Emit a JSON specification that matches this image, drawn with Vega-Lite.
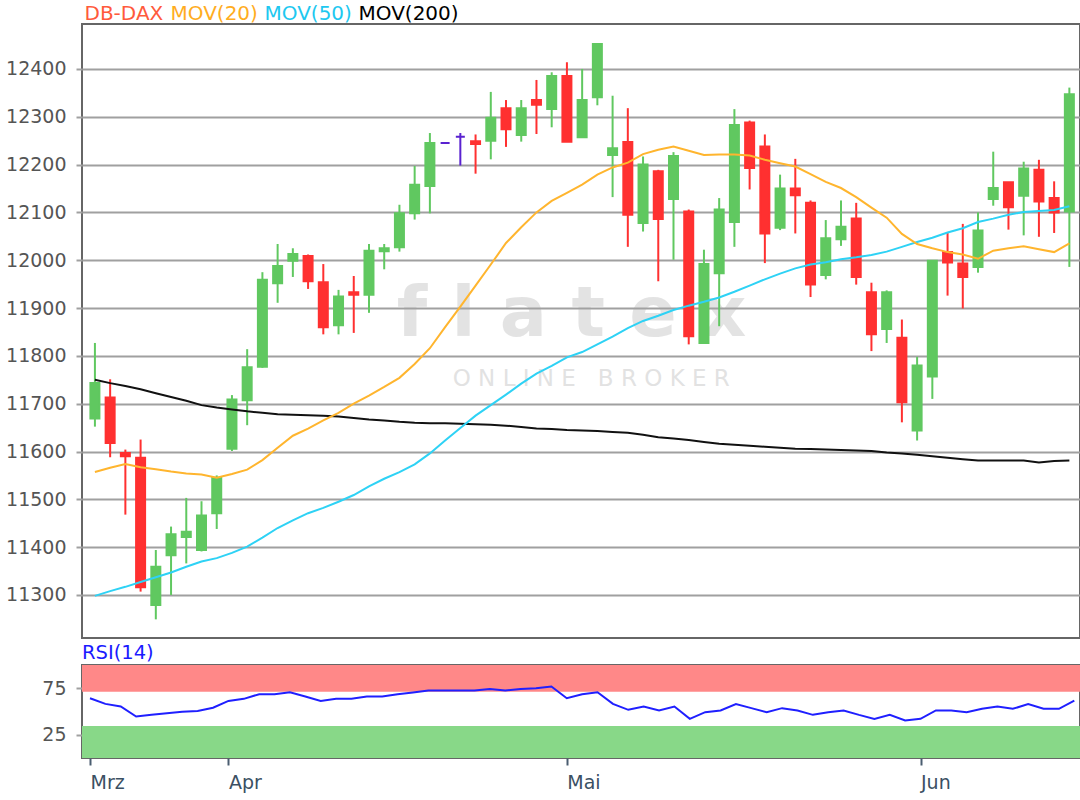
{
  "$schema": "https://vega.github.io/schema/vega-lite/v6.json",
  "background": "#ffffff",
  "padding": {"left": 4, "top": 4, "right": 2, "bottom": 4},
  "bounds": "flush",
  "spacing": 27,
  "config": {
    "font": "DejaVu Sans",
    "view": {"stroke": "#666666", "strokeWidth": 2},
    "axis": {"labelFont": "DejaVu Sans", "labelFontSize": 19, "labelColor": "#555555", "title": null, "domain": false}
  },
  "datasets": {
    "ohlc": [
      {"i":0,"o":11669,"h":11827,"l":11652,"c":11743,"m20":11557,"m50":11298,"m200":11750,"rsi":64.3},
      {"i":1,"o":11713,"h":11751,"l":11588,"c":11618,"m20":11566,"m50":11308,"m200":11743,"rsi":58.2},
      {"i":2,"o":11597,"h":11604,"l":11468,"c":11590,"m20":11574,"m50":11317,"m200":11737,"rsi":55.4},
      {"i":3,"o":11587,"h":11625,"l":11307,"c":11316,"m20":11567,"m50":11327,"m200":11730,"rsi":44.6},
      {"i":4,"o":11279,"h":11394,"l":11249,"c":11359,"m20":11563,"m50":11337,"m200":11722,"rsi":46.4},
      {"i":5,"o":11383,"h":11443,"l":11300,"c":11427,"m20":11558,"m50":11347,"m200":11714,"rsi":48.2},
      {"i":6,"o":11421,"h":11503,"l":11366,"c":11432,"m20":11554,"m50":11359,"m200":11706,"rsi":49.6},
      {"i":7,"o":11394,"h":11496,"l":11391,"c":11466,"m20":11552,"m50":11370,"m200":11697,"rsi":50.5},
      {"i":8,"o":11471,"h":11550,"l":11438,"c":11545,"m20":11545,"m50":11377,"m200":11692,"rsi":54.0},
      {"i":9,"o":11606,"h":11718,"l":11601,"c":11709,"m20":11553,"m50":11388,"m200":11688,"rsi":61.4},
      {"i":10,"o":11707,"h":11814,"l":11655,"c":11776,"m20":11562,"m50":11401,"m200":11684,"rsi":63.6},
      {"i":11,"o":11777,"h":11975,"l":11775,"c":11959,"m20":11582,"m50":11420,"m200":11681,"rsi":68.6},
      {"i":12,"o":11952,"h":12034,"l":11911,"c":11988,"m20":11608,"m50":11440,"m200":11678,"rsi":68.6},
      {"i":13,"o":11999,"h":12025,"l":11965,"c":12013,"m20":11633,"m50":11456,"m200":11677,"rsi":70.7},
      {"i":14,"o":12009,"h":12012,"l":11940,"c":11956,"m20":11648,"m50":11471,"m200":11676,"rsi":66.1},
      {"i":15,"o":11954,"h":11992,"l":11845,"c":11860,"m20":11665,"m50":11482,"m200":11675,"rsi":61.4},
      {"i":16,"o":11864,"h":11938,"l":11845,"c":11924,"m20":11681,"m50":11495,"m200":11673,"rsi":63.6},
      {"i":17,"o":11933,"h":11967,"l":11848,"c":11928,"m20":11700,"m50":11509,"m200":11670,"rsi":63.6},
      {"i":18,"o":11928,"h":12034,"l":11890,"c":12020,"m20":11717,"m50":11527,"m200":11667,"rsi":66.1},
      {"i":19,"o":12019,"h":12034,"l":11981,"c":12025,"m20":11735,"m50":11543,"m200":11665,"rsi":66.1},
      {"i":20,"o":12027,"h":12116,"l":12018,"c":12098,"m20":11754,"m50":11557,"m200":11662,"rsi":68.5},
      {"i":21,"o":12098,"h":12197,"l":12085,"c":12158,"m20":11783,"m50":11573,"m200":11660,"rsi":70.5},
      {"i":22,"o":12155,"h":12266,"l":12098,"c":12245,"m20":11816,"m50":11596,"m200":11659,"rsi":72.5},
      {"i":23,"o":12245,"h":12245,"l":12245,"c":12245,"m20":11860,"m50":11623,"m200":11659,"rsi":72.5},
      {"i":24,"o":12258,"h":12266,"l":12198,"c":12258,"m20":11903,"m50":11649,"m200":11658,"rsi":72.5},
      {"i":25,"o":12249,"h":12263,"l":12181,"c":12243,"m20":11947,"m50":11675,"m200":11657,"rsi":72.5},
      {"i":26,"o":12250,"h":12352,"l":12211,"c":12298,"m20":11991,"m50":11697,"m200":11656,"rsi":74.3},
      {"i":27,"o":12318,"h":12335,"l":12237,"c":12274,"m20":12036,"m50":11719,"m200":11654,"rsi":72.5},
      {"i":28,"o":12262,"h":12335,"l":12248,"c":12318,"m20":12069,"m50":11742,"m200":11651,"rsi":74.3},
      {"i":29,"o":12335,"h":12377,"l":12264,"c":12325,"m20":12100,"m50":11763,"m200":11648,"rsi":75.0},
      {"i":30,"o":12316,"h":12393,"l":12278,"c":12385,"m20":12124,"m50":11779,"m200":11647,"rsi":76.8},
      {"i":31,"o":12385,"h":12414,"l":12248,"c":12248,"m20":12141,"m50":11797,"m200":11645,"rsi":64.3},
      {"i":32,"o":12257,"h":12400,"l":12257,"c":12335,"m20":12158,"m50":11808,"m200":11644,"rsi":68.6},
      {"i":33,"o":12341,"h":12452,"l":12324,"c":12452,"m20":12179,"m50":11824,"m200":11643,"rsi":70.7},
      {"i":34,"o":12220,"h":12344,"l":12132,"c":12234,"m20":12194,"m50":11840,"m200":11641,"rsi":58.2},
      {"i":35,"o":12247,"h":12318,"l":12028,"c":12095,"m20":12204,"m50":11858,"m200":11639,"rsi":51.8},
      {"i":36,"o":12078,"h":12217,"l":12060,"c":12200,"m20":12222,"m50":11873,"m200":11635,"rsi":55.4},
      {"i":37,"o":12186,"h":12189,"l":11956,"c":12086,"m20":12231,"m50":11884,"m200":11630,"rsi":51.1},
      {"i":38,"o":12128,"h":12226,"l":12001,"c":12218,"m20":12238,"m50":11896,"m200":11627,"rsi":55.4},
      {"i":39,"o":12102,"h":12106,"l":11824,"c":11841,"m20":12229,"m50":11905,"m200":11624,"rsi":42.1},
      {"i":40,"o":11827,"h":12022,"l":11827,"c":11992,"m20":12220,"m50":11913,"m200":11620,"rsi":49.3},
      {"i":41,"o":11973,"h":12130,"l":11862,"c":12106,"m20":12221,"m50":11922,"m200":11616,"rsi":51.1},
      {"i":42,"o":12080,"h":12316,"l":12028,"c":12283,"m20":12221,"m50":11934,"m200":11614,"rsi":57.9},
      {"i":43,"o":12288,"h":12292,"l":12148,"c":12193,"m20":12219,"m50":11947,"m200":11612,"rsi":53.6},
      {"i":44,"o":12238,"h":12263,"l":11994,"c":12056,"m20":12210,"m50":11960,"m200":11610,"rsi":49.3},
      {"i":45,"o":12068,"h":12179,"l":12063,"c":12150,"m20":12203,"m50":11972,"m200":11608,"rsi":53.6},
      {"i":46,"o":12150,"h":12212,"l":12056,"c":12136,"m20":12196,"m50":11983,"m200":11606,"rsi":51.1},
      {"i":47,"o":12120,"h":12125,"l":11923,"c":11949,"m20":12180,"m50":11991,"m200":11605,"rsi":46.4},
      {"i":48,"o":11969,"h":12084,"l":11960,"c":12046,"m20":12164,"m50":11996,"m200":11604,"rsi":49.3},
      {"i":49,"o":12044,"h":12125,"l":12030,"c":12070,"m20":12151,"m50":12002,"m200":11603,"rsi":51.1},
      {"i":50,"o":12087,"h":12120,"l":11949,"c":11965,"m20":12132,"m50":12006,"m200":11602,"rsi":46.4},
      {"i":51,"o":11933,"h":11953,"l":11810,"c":11845,"m20":12110,"m50":12011,"m200":11601,"rsi":42.1},
      {"i":52,"o":11856,"h":11937,"l":11827,"c":11933,"m20":12089,"m50":12018,"m200":11598,"rsi":46.4},
      {"i":53,"o":11838,"h":11876,"l":11661,"c":11703,"m20":12055,"m50":12028,"m200":11596,"rsi":40.4},
      {"i":54,"o":11644,"h":11798,"l":11623,"c":11780,"m20":12034,"m50":12038,"m200":11593,"rsi":42.1},
      {"i":55,"o":11757,"h":11999,"l":11710,"c":11999,"m20":12025,"m50":12047,"m200":11590,"rsi":51.1},
      {"i":56,"o":12017,"h":12057,"l":11926,"c":11995,"m20":12017,"m50":12058,"m200":11587,"rsi":51.1},
      {"i":57,"o":11993,"h":12076,"l":11899,"c":11965,"m20":12012,"m50":12067,"m200":11584,"rsi":49.3},
      {"i":58,"o":11986,"h":12100,"l":11974,"c":12062,"m20":12003,"m50":12080,"m200":11581,"rsi":52.9},
      {"i":59,"o":12128,"h":12227,"l":12114,"c":12151,"m20":12020,"m50":12087,"m200":11581,"rsi":55.4},
      {"i":60,"o":12163,"h":12163,"l":12064,"c":12111,"m20":12025,"m50":12095,"m200":11581,"rsi":52.9},
      {"i":61,"o":12135,"h":12206,"l":12052,"c":12192,"m20":12029,"m50":12101,"m200":11581,"rsi":57.9},
      {"i":62,"o":12189,"h":12210,"l":12049,"c":12123,"m20":12023,"m50":12103,"m200":11577,"rsi":52.9},
      {"i":63,"o":12130,"h":12165,"l":12057,"c":12100,"m20":12017,"m50":12105,"m200":11580,"rsi":52.9},
      {"i":64,"o":12102,"h":12361,"l":11986,"c":12347,"m20":12035,"m50":12113,"m200":11581,"rsi":61.8}
    ],
    "bands": [
      {"zone":"over","lo":71.3,"hi":100},
      {"zone":"under","lo":0,"hi":34.4}
    ],
    "mark": [
      {"word":"f l a t e x","pos":31.3,"val":11841,"kind":"logo"},
      {"word":"O N L I N E\u00a0\u00a0\u00a0B R O K E R","pos":32.6,"val":11737,"kind":"tag"}
    ]
  },
  "vconcat": [
    {
      "width": 998,
      "height": 614,
      "layer": [
        {
          "data": {"name": "mark"},
          "transform": [{"filter": "datum.kind == 'logo'"}],
          "mark": {"type": "text", "font": "DejaVu Sans", "fontWeight": "bold", "fontSize": 70, "color": "#a6a6a6", "opacity": 0.3, "align": "center", "baseline": "alphabetic"},
          "encoding": {
            "x": {"field": "pos", "type": "quantitative", "scale": {"domain": [-0.52, 64.37], "nice": false, "zero": false}, "axis": null},
            "y": {"field": "val", "type": "quantitative", "scale": {"domain": [11210, 12494], "nice": false, "zero": false},
                  "axis": {"values": [11300,11400,11500,11600,11700,11800,11900,12000,12100,12200,12300,12400], "format": "d", "grid": true, "gridColor": "#a0a0a0", "gridWidth": 2, "tickColor": "#a0a0a0", "tickWidth": 2, "tickSize": 6, "labelPadding": 10}},
            "text": {"field": "word", "type": "nominal"}
          }
        },
        {
          "data": {"name": "mark"},
          "transform": [{"filter": "datum.kind == 'tag'"}],
          "mark": {"type": "text", "font": "DejaVu Sans", "fontSize": 23, "color": "#a6a6a6", "opacity": 0.32, "align": "center", "baseline": "alphabetic"},
          "encoding": {
            "x": {"field": "pos", "type": "quantitative"},
            "y": {"field": "val", "type": "quantitative"},
            "text": {"field": "word", "type": "nominal"}
          }
        },
        {
          "data": {"name": "ohlc"},
          "mark": {"type": "rule", "strokeWidth": 2},
          "encoding": {
            "x": {"field": "i", "type": "quantitative"},
            "y": {"field": "l", "type": "quantitative"},
            "y2": {"field": "h"},
            "color": {"condition": [{"test": "datum.c > datum.o", "value": "#60c860"}, {"test": "datum.c < datum.o", "value": "#ff3030"}], "value": "#5a22d0"}
          }
        },
        {
          "data": {"name": "ohlc"},
          "mark": {"type": "bar", "size": 9, "strokeWidth": 2},
          "encoding": {
            "x": {"field": "i", "type": "quantitative"},
            "y": {"field": "o", "type": "quantitative"},
            "y2": {"field": "c"},
            "fill": {"condition": [{"test": "datum.c > datum.o", "value": "#60c860"}, {"test": "datum.c < datum.o", "value": "#ff3030"}], "value": "#5a22d0"},
            "stroke": {"condition": [{"test": "datum.c > datum.o", "value": "#60c860"}, {"test": "datum.c < datum.o", "value": "#ff3030"}], "value": "#5a22d0"}
          }
        },
        {
          "data": {"name": "ohlc"},
          "transform": [{"fold": ["m200", "m50", "m20"], "as": ["series", "val"]}],
          "mark": {"type": "line", "strokeWidth": 2},
          "encoding": {
            "x": {"field": "i", "type": "quantitative"},
            "y": {"field": "val", "type": "quantitative"},
            "color": {
              "field": "series", "type": "nominal",
              "scale": {"domain": ["px", "m20", "m50", "m200"], "range": ["#ff5a3c", "#ffb52e", "#2ed2f5", "#111111"]},
              "legend": {
                "orient": "top", "direction": "horizontal", "title": null,
                "symbolSize": 0, "symbolStrokeWidth": 0, "symbolOpacity": 0,
                "labelOffset": -17.5, "columnPadding": 4, "padding": 0, "offset": -1,
                "labelFont": "DejaVu Sans", "labelFontSize": 20,
                "labelExpr": "datum.value == 'px' ? 'DB-DAX' : datum.value == 'm20' ? 'MOV(20)' : datum.value == 'm50' ? 'MOV(50)' : 'MOV(200)'",
                "labelColor": {"expr": "datum.value == 'px' ? '#ff5a3c' : datum.value == 'm20' ? '#ffad1f' : datum.value == 'm50' ? '#1ec8f0' : '#000000'"}
              }
            }
          }
        }
      ]
    },
    {
      "width": 998,
      "height": 93,
      "title": {"text": "RSI(14)", "anchor": "start", "frame": "group", "color": "#1a1aff", "fontSize": 19.5, "fontWeight": "normal", "font": "DejaVu Sans", "offset": 2},
      "layer": [
        {
          "data": {"name": "bands"},
          "mark": {"type": "rect"},
          "encoding": {
            "y": {"field": "lo", "type": "quantitative", "scale": {"domain": [0, 100], "nice": false},
                  "axis": {"values": [25, 75], "grid": false, "tickColor": "#a0a0a0", "tickWidth": 2, "tickSize": 6, "labelPadding": 10}},
            "y2": {"field": "hi"},
            "fill": {"condition": {"test": "datum.zone == 'over'", "value": "#ff8888"}, "value": "#88d888"}
          }
        },
        {"mark": {"type": "rule", "color": "#e26868", "strokeWidth": 1.5}, "encoding": {"y": {"datum": 95.4}}},
        {"mark": {"type": "rule", "color": "#e26868", "strokeWidth": 1.5}, "encoding": {"y": {"datum": 74.2}}},
        {"mark": {"type": "rule", "color": "#64bb64", "strokeWidth": 1.5}, "encoding": {"y": {"datum": 27.4}}},
        {"mark": {"type": "rule", "color": "#64bb64", "strokeWidth": 1.5}, "encoding": {"y": {"datum": 3.5}}},
        {
          "mark": {"type": "rule", "color": "#aaaaaa", "strokeWidth": 2},
          "encoding": {"y": {"datum": 50}}
        },
        {
          "data": {"name": "ohlc"},
          "mark": {"type": "line", "color": "#1f1fff", "strokeWidth": 2},
          "encoding": {
            "x": {"field": "i", "type": "quantitative", "scale": {"domain": [-0.52, 64.37], "nice": false, "zero": false},
                  "axis": {"values": [0, 9, 31, 54], "labelExpr": "datum.value == 0 ? 'Mrz' : datum.value == 9 ? 'Apr' : datum.value == 31 ? 'Mai' : 'Jun'", "labelAlign": "left", "labelFlush": false, "labelOverlap": false, "grid": false, "tickSize": 7, "tickWidth": 2, "tickColor": "#4a5d70", "labelColor": "#3b5063", "labelPadding": 8}},
            "y": {"field": "rsi", "type": "quantitative"}
          }
        }
      ]
    }
  ]
}
